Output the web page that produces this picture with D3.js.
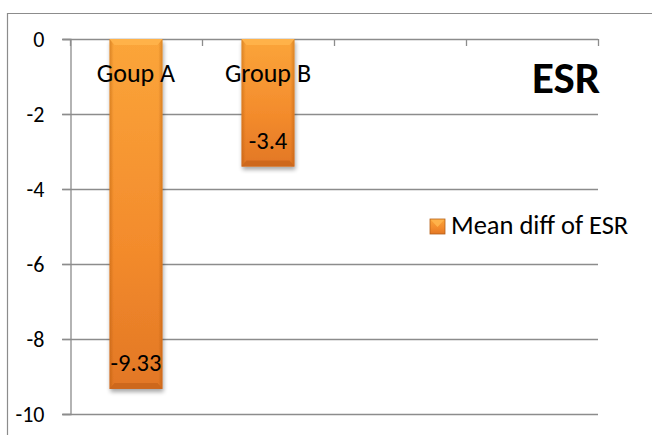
<!DOCTYPE html>
<html>
<head>
<meta charset="utf-8">
<script src="https://cdn.jsdelivr.net/npm/d3@7"></script>
<style>
  body { margin: 0; background: #fff; }
  text { font-family: Carlito, Calibri, Lato, "Open Sans", sans-serif; }
</style>
</head>
<body>
<svg id="chart" width="652" height="435"></svg>
<script>
// data
var categories = ["Goup A", "Group B", "", ""];
var values = [-9.33, -3.4, null, null];
var valueLabels = ["-9.33", "-3.4", "", ""];
var yTicks = [0, -2, -4, -6, -8, -10];
var seriesName = "Mean diff of ESR";
var chartTitle = "ESR";

var svg = d3.select("#chart");
var plotLeft = 70, plotRight = 598, plotTop = 39, plotBottom = 414;
var FONT = "Carlito, Calibri, Lato, sans-serif";

var xb = d3.scaleBand().domain(d3.range(categories.length)).range([plotLeft, plotRight]);
var y = d3.scaleLinear().domain([0, -10]).range([plotTop, plotBottom]);

var defs = svg.append("defs");
var gv = defs.append("linearGradient").attr("id", "barv").attr("x1", 0).attr("y1", 0).attr("x2", 0).attr("y2", 1);
gv.append("stop").attr("offset", "0%").attr("stop-color", "#fba53a");
gv.append("stop").attr("offset", "60%").attr("stop-color", "#f38b2c");
gv.append("stop").attr("offset", "100%").attr("stop-color", "#e27725");
var gh = defs.append("linearGradient").attr("id", "barh").attr("x1", 0).attr("y1", 0).attr("x2", 1).attr("y2", 0);
gh.append("stop").attr("offset", "0%").attr("stop-color", "#a04a00").attr("stop-opacity", 0.35);
gh.append("stop").attr("offset", "8%").attr("stop-color", "#a04a00").attr("stop-opacity", 0);
gh.append("stop").attr("offset", "92%").attr("stop-color", "#a04a00").attr("stop-opacity", 0);
gh.append("stop").attr("offset", "100%").attr("stop-color", "#a04a00").attr("stop-opacity", 0.35);
var sh = defs.append("filter").attr("id", "shadow").attr("x", "-20%").attr("y", "-10%").attr("width", "140%").attr("height", "130%");
sh.append("feGaussianBlur").attr("in", "SourceAlpha").attr("stdDeviation", 2);
sh.append("feOffset").attr("dx", 1).attr("dy", 3).attr("result", "b");
sh.append("feComponentTransfer").append("feFuncA").attr("type", "linear").attr("slope", 0.35);
var fm = sh.append("feMerge");
fm.append("feMergeNode");
fm.append("feMergeNode").attr("in", "SourceGraphic");

// outer frame (left + top only visible)
svg.append("line").attr("x1", 7.5).attr("x2", 7.5).attr("y1", 13).attr("y2", 435).attr("stroke", "#8c8c8c").attr("stroke-width", 1.2);
svg.append("line").attr("x1", 7).attr("x2", 652).attr("y1", 13.5).attr("y2", 13.5).attr("stroke", "#8c8c8c").attr("stroke-width", 1.2);

// gridlines
svg.append("g").selectAll("line").data(yTicks.slice(1)).enter().append("line")
  .attr("x1", plotLeft - 8).attr("x2", plotRight)
  .attr("y1", function(d) { return Math.round(y(d)) + 0.5; })
  .attr("y2", function(d) { return Math.round(y(d)) + 0.5; })
  .attr("stroke", "#8c8c8c").attr("stroke-width", 1.3);

// y axis (plain hyphen minus like the original)
var yAxis = d3.axisLeft(y).tickValues(yTicks).tickSize(8).tickPadding(18).tickFormat(function(d) { return String(d); });
var ya = svg.append("g").attr("transform", "translate(" + (plotLeft + 0.5) + ",0)").call(yAxis);
ya.select(".domain").attr("stroke", "#8c8c8c").attr("stroke-width", 1.3);
ya.selectAll(".tick line").attr("stroke", "#8c8c8c").attr("stroke-width", 1.3);
ya.selectAll(".tick text").attr("font-size", 22).attr("fill", "#000").style("font-family", FONT);

// category axis along 0 (top)
svg.append("line").attr("x1", plotLeft - 8).attr("x2", plotRight).attr("y1", plotTop + 0.5).attr("y2", plotTop + 0.5).attr("stroke", "#8c8c8c").attr("stroke-width", 1.3);
var tickXs = d3.range(categories.length + 1).map(function(i) { return i < categories.length ? xb(i) : xb(i - 1) + xb.bandwidth(); });
svg.append("g").selectAll("line").data(tickXs).enter().append("line")
  .attr("x1", function(d) { return Math.round(d) + 0.5; }).attr("x2", function(d) { return Math.round(d) + 0.5; })
  .attr("y1", plotTop).attr("y2", plotTop + 7)
  .attr("stroke", "#8c8c8c").attr("stroke-width", 1.3);

// bars
var barData = values.map(function(v, i) { return { i: i, v: v, label: valueLabels[i] }; }).filter(function(d) { return d.v !== null; });
var bw = 53;
function bx(d) { return xb(d.i) + xb.bandwidth() / 2 - bw / 2; }
var bars = svg.append("g").selectAll("g").data(barData).enter().append("g")
  .attr("filter", "url(#shadow)");
bars.append("rect")
  .attr("x", bx).attr("y", y(0)).attr("width", bw)
  .attr("height", function(d) { return y(d.v) - y(0); })
  .attr("fill", "url(#barv)");
bars.append("rect")
  .attr("x", bx).attr("y", y(0)).attr("width", bw)
  .attr("height", function(d) { return y(d.v) - y(0); })
  .attr("fill", "url(#barh)");
// top bevel
bars.append("path")
  .attr("d", function(d) {
    var x0 = bx(d), x1 = x0 + bw, y0 = y(0);
    return "M" + x0 + "," + y0 + "L" + x1 + "," + y0 + "L" + (x1 - 5) + "," + (y0 + 6) + "L" + (x0 + 5) + "," + (y0 + 6) + "Z";
  })
  .attr("fill", "#ffb24a");
// bottom bevel
bars.append("path")
  .attr("d", function(d) {
    var x0 = bx(d), x1 = x0 + bw, y1 = y(d.v);
    return "M" + x0 + "," + y1 + "L" + x1 + "," + y1 + "L" + (x1 - 5) + "," + (y1 - 6) + "L" + (x0 + 5) + "," + (y1 - 6) + "Z";
  })
  .attr("fill", "#c8641a").attr("opacity", 0.8);

// value labels
svg.append("g").selectAll("text").data(barData).enter().append("text")
  .attr("x", function(d) { return xb(d.i) + xb.bandwidth() / 2; })
  .attr("y", function(d) { return y(d.v) - 18; })
  .attr("text-anchor", "middle").attr("font-size", 24.5).attr("fill", "#000")
  .text(function(d) { return d.label; });

// category labels
svg.append("g").selectAll("text").data(categories).enter().append("text")
  .attr("x", function(d, i) { return xb(i) + xb.bandwidth() / 2; })
  .attr("y", 82)
  .attr("text-anchor", "middle").attr("font-size", 26).attr("fill", "#000")
  .text(function(d) { return d; });

// title
svg.append("text").attr("x", plotRight + 2).attr("y", 93).attr("text-anchor", "end")
  .attr("font-size", 45).attr("font-weight", "bold").attr("fill", "#000").text(chartTitle);

// legend
var lg = svg.append("g").attr("transform", "translate(430,219)");
lg.append("rect").attr("width", 15).attr("height", 15).attr("fill", "url(#barv)");
lg.append("path").attr("d", "M0,0L15,0L7.5,8Z").attr("fill", "#ffb24a");
lg.append("rect").attr("width", 15).attr("height", 15).attr("fill", "none").attr("stroke", "#b5601a").attr("stroke-width", 0.8);
lg.append("text").attr("x", 21).attr("y", 15).attr("font-size", 26.5).attr("fill", "#000").text(seriesName);
</script>
</body>
</html>
